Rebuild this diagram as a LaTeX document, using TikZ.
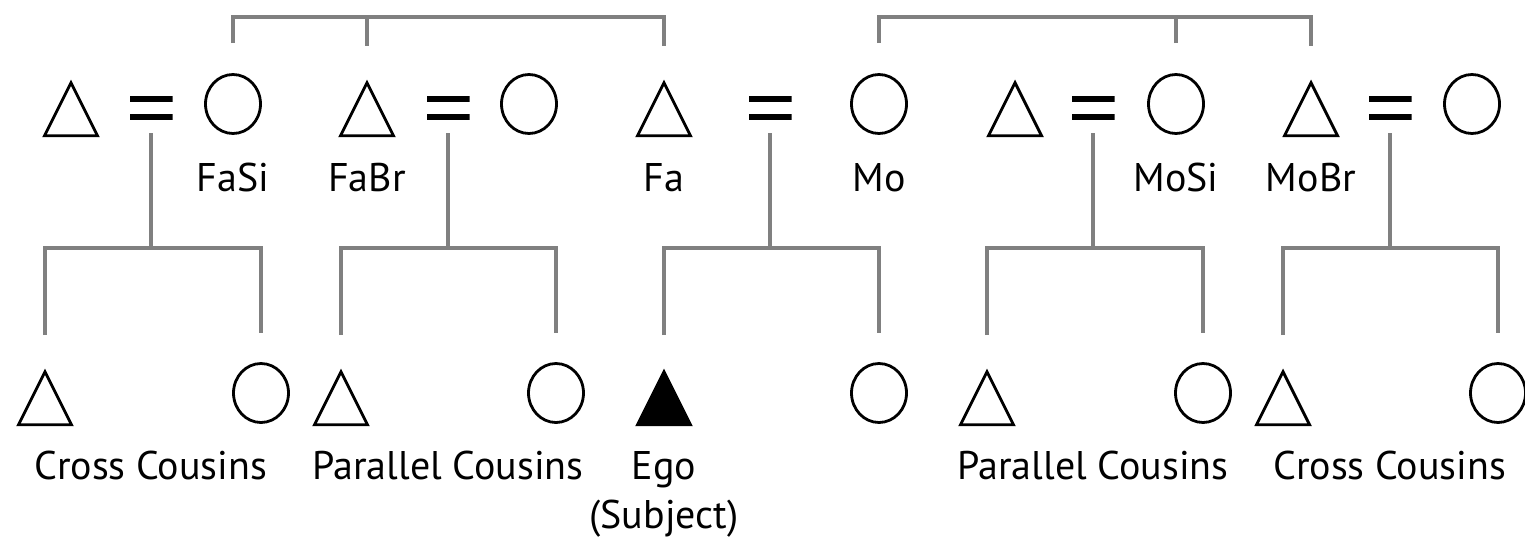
\documentclass[tikz,border=0pt]{standalone}
\usepackage{fontspec}
\setmainfont{PT Sans}
\usetikzlibrary{shapes.geometric}

\definecolor{linegray}{RGB}{128,128,128}
\tikzstyle{male}=[isosceles triangle,isosceles triangle stretches,shape border rotate=90,draw=black,line width=2.8pt,minimum width=53pt,minimum height=53pt,inner sep=0pt,anchor=apex]
\tikzstyle{ego}=[male,fill=black]
\tikzstyle{female}=[ellipse,draw=black,line width=2.8pt,minimum width=55pt,minimum height=59pt,inner sep=0pt]
\tikzstyle{marriage}=[rectangle,minimum width=43pt,minimum height=24pt,inner sep=0pt,path picture={\fill (path picture bounding box.north west) rectangle ([yshift=-6pt]path picture bounding box.north east); \fill ([yshift=6pt]path picture bounding box.south west) rectangle (path picture bounding box.south east);}]
\tikzstyle{kin}=[draw=linegray,line width=4pt]
\tikzstyle{kinlabel}=[anchor=base,inner sep=0pt,font=\fontsize{40}{48}\selectfont]

\begin{document}
\begin{tikzpicture}[x=1pt,y=-1pt]
	\useasboundingbox (0,0) rectangle (1525,543);
	% parents and their siblings
	\node[male] (fasih) at (71,79) {};
	\node[marriage] (m1) at (151,108) {};
	\node[female] (fasi) at (233,104) {};
	\node[male] (fabr) at (367,79) {};
	\node[marriage] (m2) at (448,108) {};
	\node[female] (fabrw) at (529,104) {};
	\node[male] (fa) at (664,79) {};
	\node[marriage] (m3) at (770,108) {};
	\node[female] (mo) at (879,104) {};
	\node[male] (mosih) at (1015,79) {};
	\node[marriage] (m4) at (1093,108) {};
	\node[female] (mosi) at (1176,104) {};
	\node[male] (mobr) at (1311,79) {};
	\node[marriage] (m5) at (1390,108) {};
	\node[female] (mobrw) at (1472,104) {};
	\node[kinlabel] (lfasi) at (233,191) {FaSi};
	\node[kinlabel] (lfabr) at (367,191) {FaBr};
	\node[kinlabel] (lfa) at (664,191) {Fa};
	\node[kinlabel] (lmo) at (879,191) {Mo};
	\node[kinlabel] (lmosi) at (1176,191) {MoSi};
	\node[kinlabel] (lmobr) at (1311,191) {MoBr};
	% ego's generation
	\node[male] (c1) at (45,368) {};
	\node[female] (c2) at (261,393) {};
	\node[male] (c3) at (341,368) {};
	\node[female] (c4) at (556,393) {};
	\node[ego] (ego) at (664,368) {};
	\node[female] (sis) at (879,393) {};
	\node[male] (c5) at (987,368) {};
	\node[female] (c6) at (1203,393) {};
	\node[male] (c7) at (1283,368) {};
	\node[female] (c8) at (1498,393) {};
	\node[kinlabel] (lcross1) at (151,479) {Cross Cousins};
	\node[kinlabel] (lpar1) at (448,479) {Parallel Cousins};
	\node[kinlabel] (lego) at (664,479) {Ego};
	\node[kinlabel] (lsubj) at (664,528) {(Subject)};
	\node[kinlabel] (lpar2) at (1093,479) {Parallel Cousins};
	\node[kinlabel] (lcross2) at (1390,479) {Cross Cousins};
	% sibling bars
	\coordinate (fgen) at (448,17);
	\coordinate (mgen) at (1093,17);
	\draw[kin] ([yshift=30pt]fasi.north) |- (fgen) -| ([yshift=33pt]fa.apex);
	\draw[kin] ([yshift=33pt]fabr.apex) -- (fabr.apex |- fgen);
	\draw[kin] ([yshift=30pt]mo.north) |- (mgen) -| ([yshift=33pt]mobr.apex);
	\draw[kin] ([yshift=30pt]mosi.north) -- (mosi |- mgen);
	% descent lines
	\coordinate (k1) at (151,248);
	\coordinate (k2) at (448,248);
	\coordinate (k3) at (770,248);
	\coordinate (k4) at (1093,248);
	\coordinate (k5) at (1390,248);
	\draw[kin] ([yshift=-13pt]m1.south) -- (k1);
	\draw[kin] ([yshift=-13pt]m2.south) -- (k2);
	\draw[kin] ([yshift=-13pt]m3.south) -- (k3);
	\draw[kin] ([yshift=-13pt]m4.south) -- (k4);
	\draw[kin] ([yshift=-13pt]m5.south) -- (k5);
	\draw[kin] ([yshift=33pt]c1.apex) |- (k1) -| ([yshift=29pt]c2.north);
	\draw[kin] ([yshift=33pt]c3.apex) |- (k2) -| ([yshift=29pt]c4.north);
	\draw[kin] ([yshift=33pt]ego.apex) |- (k3) -| ([yshift=29pt]sis.north);
	\draw[kin] ([yshift=33pt]c5.apex) |- (k4) -| ([yshift=29pt]c6.north);
	\draw[kin] ([yshift=33pt]c7.apex) |- (k5) -| ([yshift=29pt]c8.north);
\end{tikzpicture}
\end{document}
